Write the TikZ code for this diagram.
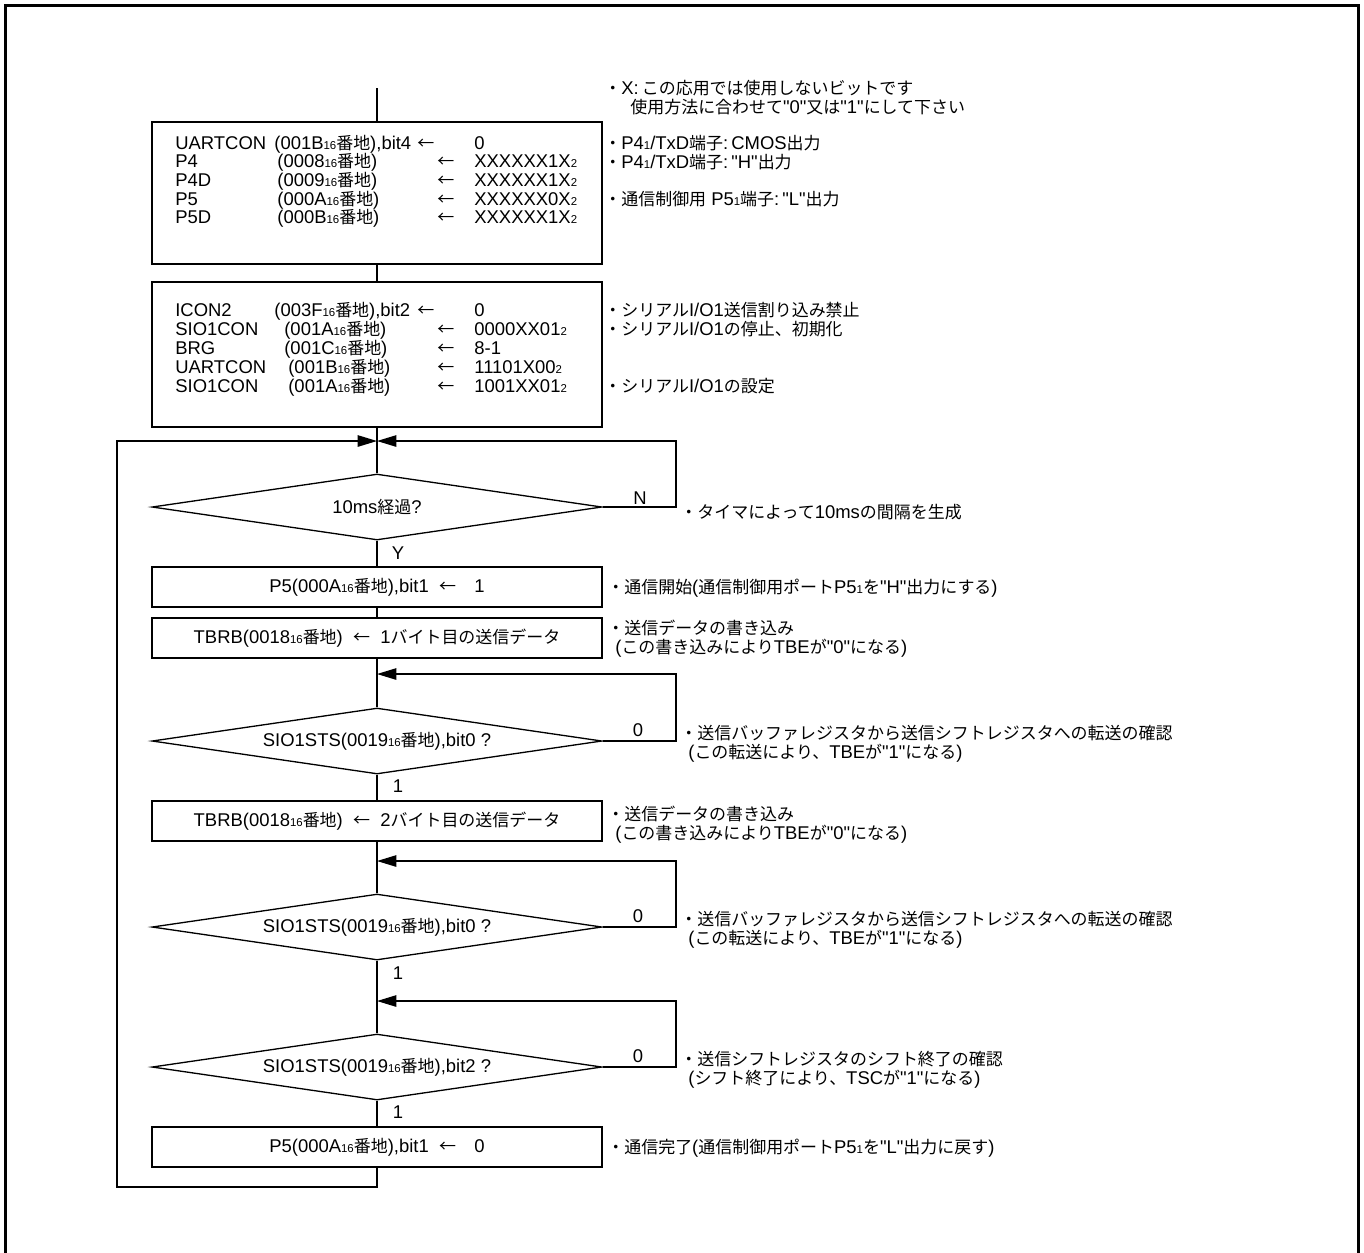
\documentclass[tikz,border=0pt]{standalone}
\usepackage{fontspec}
\setmainfont{Liberation Sans}[Ligatures=TeXOff]
\newfontfamily\jpfont{Noto Sans CJK JP}[Scale=0.92]
% Japanese characters (and the arrow) switch to the CJK font by themselves
\XeTeXinterchartokenstate=1
\newXeTeXintercharclass\jpclass
\count255="3000
\loop\XeTeXcharclass\count255=\jpclass\advance\count255 by 1\ifnum\count255<"A000\repeat
\count255="FF00
\loop\XeTeXcharclass\count255=\jpclass\advance\count255 by 1\ifnum\count255<"FFF0\repeat
\XeTeXcharclass"2190=\jpclass
\XeTeXinterchartoks 0 \jpclass={\jpfont}
\XeTeXinterchartoks 4095 \jpclass={\jpfont}
\XeTeXinterchartoks \jpclass 0={\rmfamily}
\XeTeXinterchartoks \jpclass 4095={\rmfamily}
\usetikzlibrary{shapes.geometric,arrows.meta}
\newcommand{\idx}[1]{{\fontsize{6.5pt}{7pt}\selectfont #1}}
\tikzset{
  flow/.style={line width=0.75pt},
  procbox/.style={draw,line width=0.75pt,minimum width=9cm,minimum height=0.8cm,inner sep=0pt},
  testbox/.style={draw,diamond,line width=0.75pt,minimum width=9cm,minimum height=1.32cm,aspect=6.8,inner sep=0pt},
  regtxt/.style={anchor=base west,inner sep=0pt},
  note/.style={anchor=base west,inner sep=0pt},
  lbl/.style={inner sep=0pt},
  back/.style={flow,-{Triangle[length=11pt,width=6.5pt]}},
}
\begin{document}
\begin{tikzpicture}[x=0.02cm,y=-0.02cm,every node/.style={font=\fontsize{10.5pt}{12pt}\selectfont}]
\useasboundingbox (0,0) rectangle (1364,1252);
\draw[line width=1.5pt] (5.5,1262) -- (5.5,5.5) -- (1358.5,5.5) -- (1358.5,1262);

% setting boxes
\node[procbox,minimum height=2.84cm] (init) at (377,193) {};
\node[procbox,minimum height=2.9cm] (sioinit) at (377,354.5) {};
\foreach \nm/\ad/\ax/\ar/\vl [count=\i from 0] in {
  UARTCON/{(001B\idx{16}番地),bit4}/274/417/0,
  P4/{(0008\idx{16}番地)}/277/437/{XXXXXX1X\idx{2}},
  P4D/{(0009\idx{16}番地)}/277/437/{XXXXXX1X\idx{2}},
  P5/{(000A\idx{16}番地)}/277/437/{XXXXXX0X\idx{2}},
  P5D/{(000B\idx{16}番地)}/277/437/{XXXXXX1X\idx{2}}}{
  \node[regtxt] (initn\i) at (175,149+18.7*\i) {\nm};
  \node[regtxt] (inita\i) at (\ax,149+18.7*\i) {\ad};
  \node[regtxt] (initr\i) at (\ar,149+18.7*\i) {←};
  \node[regtxt] (initv\i) at (474,149+18.7*\i) {\vl};
}
\foreach \nm/\ad/\ax/\ar/\vl [count=\i from 0] in {
  ICON2/{(003F\idx{16}番地),bit2}/274/417/0,
  SIO1CON/{(001A\idx{16}番地)}/284/437/{0000XX01\idx{2}},
  BRG/{(001C\idx{16}番地)}/284/437/8-1,
  UARTCON/{(001B\idx{16}番地)}/288/437/{11101X00\idx{2}},
  SIO1CON/{(001A\idx{16}番地)}/288/437/{1001XX01\idx{2}}}{
  \node[regtxt] (sion\i) at (175,316+19*\i) {\nm};
  \node[regtxt] (sioa\i) at (\ax,316+19*\i) {\ad};
  \node[regtxt] (sior\i) at (\ar,316+19*\i) {←};
  \node[regtxt] (siov\i) at (474,316+19*\i) {\vl};
}

% main flow
\node[testbox] (wait) at (377,507) {10ms経過?};
\node[procbox] (start) at (377,587) {P5(000A\idx{16}番地),bit1\ \ ←\hspace{1em}1};
\node[procbox] (byte1) at (377,638) {TBRB(0018\idx{16}番地)\ \ ←\ \ 1バイト目の送信データ};
\node[testbox] (tbe1) at (377,741) {SIO1STS(0019\idx{16}番地),bit0 ?};
\node[procbox] (byte2) at (377,821) {TBRB(0018\idx{16}番地)\ \ ←\ \ 2バイト目の送信データ};
\node[testbox] (tbe2) at (377,927) {SIO1STS(0019\idx{16}番地),bit0 ?};
\node[testbox] (tsc) at (377,1067) {SIO1STS(0019\idx{16}番地),bit2 ?};
\node[procbox] (stop) at (377,1147) {P5(000A\idx{16}番地),bit1\ \ ←\hspace{1em}0};

\coordinate (entry) at (377,88);
\coordinate (m1) at (377,441);
\coordinate (m2) at (377,674);
\coordinate (m3) at (377,861);
\coordinate (m4) at (377,1001);
\coordinate (loopbot) at (117,1187);

\draw[flow] (entry) -- (init);
\draw[flow] (init) -- (sioinit);
\draw[flow] (sioinit.south) -- (wait.north);
\draw[flow] (wait) -- (start);
\draw[flow] (start) -- (byte1);
\draw[flow] (byte1.south) -- (tbe1.north);
\draw[flow] (tbe1) -- (byte2);
\draw[flow] (byte2.south) -- (tbe2.north);
\draw[flow] (tbe2.south) -- (tsc.north);
\draw[flow] (tsc) -- (stop);

% loops back
\draw[back] (stop.south) |- (loopbot) |- (m1);
\draw[back] (wait.east) -| (676,441) -- (m1);
\draw[back] (tbe1.east) -| (676,674) -- (m2);
\draw[back] (tbe2.east) -| (676,861) -- (m3);
\draw[back] (tsc.east) -| (676,1001) -- (m4);

\node[lbl] (lblN) at (640,498) {N};
\node[lbl] (lblY) at (398,553) {Y};
\node[lbl] (lbl0a) at (638,730) {0};
\node[lbl] (lbl1a) at (398,786) {1};
\node[lbl] (lbl0b) at (638,916) {0};
\node[lbl] (lbl1b) at (398,973) {1};
\node[lbl] (lbl0c) at (638,1056) {0};
\node[lbl] (lbl1c) at (398,1112) {1};

% notes
\node[note] (n1) at (604,94) {・X:\,この応用では使用しないビットです};
\node[note] (n1b) at (630,113) {使用方法に合わせて"0"又は"1"にして下さい};
\node[note] (n2) at (604,149) {・P4\idx{1}/TxD端子:\,CMOS出力};
\node[note] (n3) at (604,168) {・P4\idx{1}/TxD端子:\,"H"出力};
\node[note] (n4) at (604,205) {・通信制御用 P5\idx{1}端子:\,"L"出力};
\node[note] (n5) at (604,316) {・シリアルI/O1送信割り込み禁止};
\node[note] (n6) at (604,335) {・シリアルI/O1の停止、初期化};
\node[note] (n7) at (604,392) {・シリアルI/O1の設定};
\node[note] (n8) at (680,518) {・タイマによって10msの間隔を生成};
\node[note] (n9) at (607,593) {・通信開始(通信制御用ポートP5\idx{1}を"H"出力にする)};
\node[note] (n10) at (607,634) {・送信データの書き込み};
\node[note] (n10b) at (615,653) {(この書き込みによりTBEが"0"になる)};
\node[note] (n11) at (680,739) {・送信バッファレジスタから送信シフトレジスタへの転送の確認};
\node[note] (n11b) at (688,758) {(この転送により、TBEが"1"になる)};
\node[note] (n12) at (607,820) {・送信データの書き込み};
\node[note] (n12b) at (615,839) {(この書き込みによりTBEが"0"になる)};
\node[note] (n13) at (680,925) {・送信バッファレジスタから送信シフトレジスタへの転送の確認};
\node[note] (n13b) at (688,944) {(この転送により、TBEが"1"になる)};
\node[note] (n14) at (680,1065) {・送信シフトレジスタのシフト終了の確認};
\node[note] (n14b) at (688,1084) {(シフト終了により、TSCが"1"になる)};
\node[note] (n15) at (607,1153) {・通信完了(通信制御用ポートP5\idx{1}を"L"出力に戻す)};
\end{tikzpicture}
\end{document}
